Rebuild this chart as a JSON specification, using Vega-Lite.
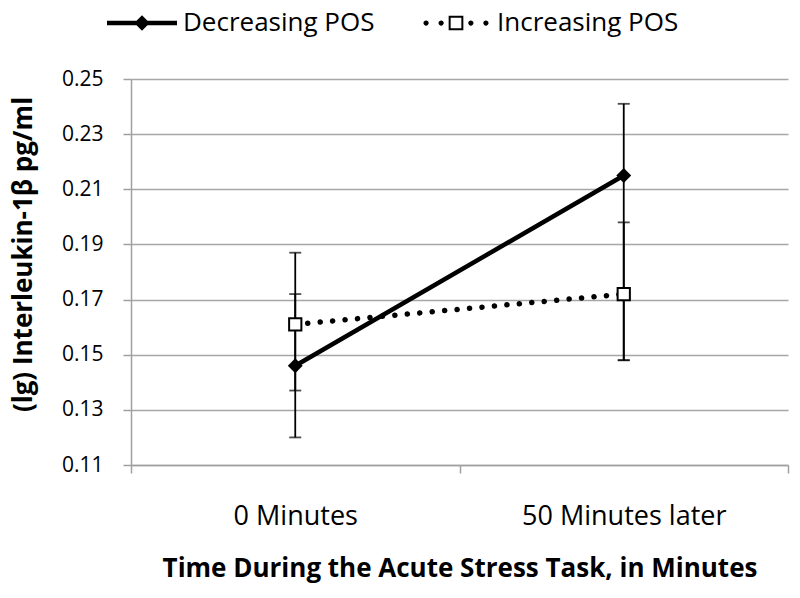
{
  "$schema": "https://vega.github.io/schema/vega-lite/v6.json",
  "autosize": "none",
  "width": 657,
  "height": 386,
  "padding": {"left": 131, "top": 79, "right": 12, "bottom": 133},
  "background": "white",
  "config": {
    "font": "Open Sans",
    "view": {"stroke": null},
    "axis": {"labelFont": "Open Sans", "titleFont": "Open Sans", "labelColor": "black", "titleColor": "black"},
    "legend": {"labelFont": "Open Sans"}
  },
  "data": {
    "values": [
      {"time": "0 Minutes", "series": "Decreasing POS", "value": 0.146, "low": 0.120, "high": 0.172},
      {"time": "0 Minutes", "series": "Increasing POS", "value": 0.161, "low": 0.137, "high": 0.187},
      {"time": "50 Minutes later", "series": "Decreasing POS", "value": 0.215, "low": 0.148, "high": 0.241},
      {"time": "50 Minutes later", "series": "Increasing POS", "value": 0.172, "low": 0.148, "high": 0.198}
    ]
  },
  "encoding": {
    "x": {
      "field": "time", "type": "nominal",
      "scale": {"paddingInner": 0, "paddingOuter": 0},
      "axis": {
        "title": "Time During the Acute Stress Task, in Minutes",
        "titleFontSize": 26, "titleFontWeight": "bold", "titleY": 90, "titleBaseline": "top",
        "labelFontSize": 27, "labelPadding": 30, "labelAngle": 0, "labelLimit": 0,
        "domainColor": "#a0a0a0", "domainWidth": 1.5,
        "tickColor": "#a0a0a0", "tickWidth": 1.5, "tickSize": 8, "tickBand": "extent",
        "grid": false
      }
    }
  },
  "layer": [
    {
      "mark": {"type": "rule", "color": "black", "strokeWidth": 1.8},
      "encoding": {
        "y": {
          "field": "low", "type": "quantitative",
          "scale": {"domain": [0.11, 0.25], "nice": false, "zero": false},
          "axis": {
            "title": "(lg) Interleukin-1β pg/ml",
            "titleFontSize": 26, "titleFontWeight": "bold",
            "titleX": -108, "titleY": 175, "titleBaseline": "middle", "titleAngle": -90, "titleAlign": "center",
            "values": [0.11, 0.13, 0.15, 0.17, 0.19, 0.21, 0.23, 0.25],
            "format": ".2f",
            "labelFontSize": 21, "labelPadding": 20,
            "domainColor": "#a0a0a0", "domainWidth": 1.5,
            "tickColor": "#a0a0a0", "tickWidth": 1.5, "tickSize": 8,
            "gridColor": "#a6a6a6", "gridWidth": 1.5
          }
        },
        "y2": {"field": "high"}
      }
    },
    {
      "transform": [{"fold": ["low", "high"], "as": ["bound", "bv"]}],
      "mark": {"type": "tick", "color": "black", "size": 12, "thickness": 1.8, "orient": "horizontal"},
      "encoding": {
        "y": {"field": "bv", "type": "quantitative"}
      }
    },
    {
      "transform": [{"filter": "datum.series === 'Decreasing POS'"}],
      "mark": {"type": "line", "strokeCap": "round", "strokeWidth": 4.5},
      "encoding": {
        "y": {"field": "value", "type": "quantitative"},
        "color": {
          "field": "series", "type": "nominal",
          "scale": {"domain": ["Decreasing POS", "Increasing POS"], "range": ["black", "black"]},
          "legend": {
            "title": null, "orient": "none", "direction": "horizontal",
            "legendX": -24, "legendY": -91, "padding": 0,
            "labelFontSize": 26, "labelColor": "black", "labelLimit": 0,
            "labelOffset": 6, "columnPadding": 46, "symbolSize": 4900,
            "encode": {
              "symbols": {
                "update": {
                  "shape": {"signal": "datum.value === 'Decreasing POS' ? 'M-1,-0.064H1V0.064H-1Z M0,-0.22L0.22,0L0,0.22L-0.22,0Z' : 'M-0.93,0a0.075,0.075 0 1,0 0.15,0a0.075,0.075 0 1,0 -0.15,0Z M-0.5,0a0.075,0.075 0 1,0 0.15,0a0.075,0.075 0 1,0 -0.15,0Z M0.35,0a0.075,0.075 0 1,0 0.15,0a0.075,0.075 0 1,0 -0.15,0Z M0.78,0a0.075,0.075 0 1,0 0.15,0a0.075,0.075 0 1,0 -0.15,0Z M-0.21,-0.21H0.21V0.21H-0.21Z M-0.153,-0.153V0.153H0.153V-0.153Z'"},
                  "fill": {"value": "black"},
                  "fillOpacity": {"value": 1},
                  "stroke": {"value": "transparent"},
                  "strokeWidth": {"value": 0},
                  "strokeDash": {"value": [1, 0]},
                  "size": {"value": 4900}
                }
              }
            }
          }
        }
      }
    },
    {
      "transform": [{"filter": "datum.series === 'Increasing POS'"}],
      "mark": {"type": "line", "strokeCap": "round", "strokeWidth": 5.5, "strokeDash": [0.1, 12.4]},
      "encoding": {
        "y": {"field": "value", "type": "quantitative"},
        "color": {"field": "series", "type": "nominal"}
      }
    },
    {
      "transform": [{"filter": "datum.series === 'Decreasing POS'"}],
      "mark": {"type": "point", "shape": "diamond", "filled": true, "color": "black", "opacity": 1, "size": 220},
      "encoding": {
        "y": {"field": "value", "type": "quantitative"}
      }
    },
    {
      "transform": [{"filter": "datum.series === 'Increasing POS'"}],
      "mark": {"type": "point", "shape": "square", "filled": true, "fill": "white", "stroke": "black", "strokeWidth": 2, "opacity": 1, "size": 150},
      "encoding": {
        "y": {"field": "value", "type": "quantitative"}
      }
    }
  ]
}
